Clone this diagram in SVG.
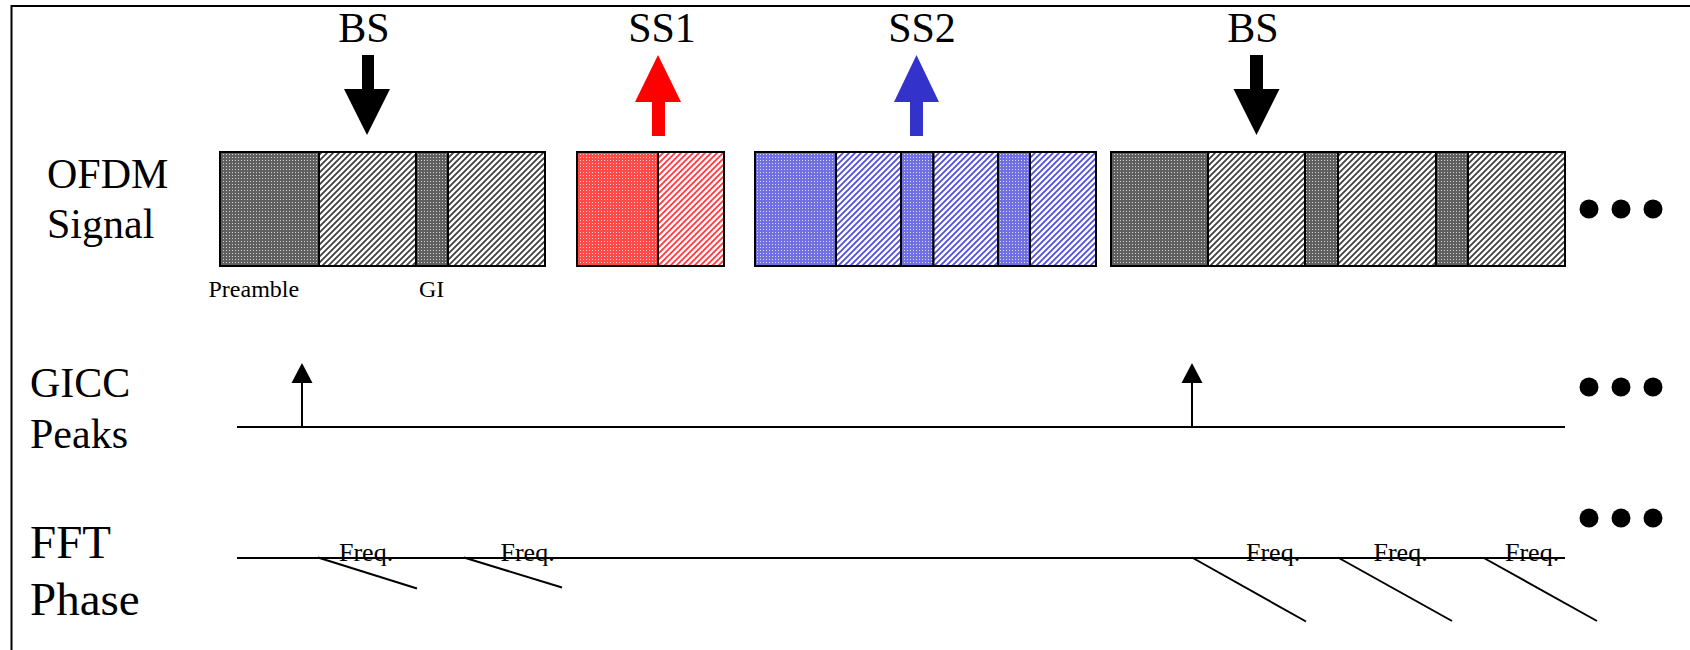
<svg xmlns="http://www.w3.org/2000/svg" width="1690" height="650" viewBox="0 0 1690 650">
<style>
  .lbl { font-family: "Liberation Serif", "Times New Roman", serif; fill: #000; }
  .big { font-size: 42px; }
  .big2 { font-size: 47px; }
  .small { font-size: 24px; }
  .freq { font-size: 26px; }
  .seg { stroke: #000; stroke-width: 2; }
  .ln { stroke: #000; stroke-width: 2; fill: none; }
  .dot { fill: #000; }
</style>
<defs>
  <pattern id="dotK" width="3" height="3" patternUnits="userSpaceOnUse">
    <rect width="3" height="3" fill="#606060"/>
    <rect x="1" y="1" width="1" height="1" fill="#d0d0d0"/>
  </pattern>
  <pattern id="hatchK" width="6" height="6" patternUnits="userSpaceOnUse">
    <rect width="6" height="6" fill="#fff"/>
    <path d="M-1,7 L7,-1 M-4,4 L4,-4 M2,10 L10,2" stroke="#404040" stroke-width="1.8"/>
  </pattern>
  <pattern id="dotR" width="3" height="3" patternUnits="userSpaceOnUse">
    <rect width="3" height="3" fill="#ff4a4a"/>
    <rect x="1" y="1" width="1" height="1" fill="#ffd0d0"/>
  </pattern>
  <pattern id="hatchR" width="6" height="6" patternUnits="userSpaceOnUse">
    <rect width="6" height="6" fill="#fff"/>
    <path d="M-1,7 L7,-1 M-4,4 L4,-4 M2,10 L10,2" stroke="#ff3a3a" stroke-width="1.8"/>
  </pattern>
  <pattern id="dotB" width="3" height="3" patternUnits="userSpaceOnUse">
    <rect width="3" height="3" fill="#7070e0"/>
    <rect x="1" y="1" width="1" height="1" fill="#dcdcff"/>
  </pattern>
  <pattern id="hatchB" width="6" height="6" patternUnits="userSpaceOnUse">
    <rect width="6" height="6" fill="#fff"/>
    <path d="M-1,7 L7,-1 M-4,4 L4,-4 M2,10 L10,2" stroke="#5050d8" stroke-width="1.8"/>
  </pattern>
</defs>

<g id="frame">
  <path d="M11.5,650 L11.5,6 L1690,6" class="ln"/>
</g>

<g id="row-labels">
  <text class="lbl big" x="47" y="188">OFDM</text>
  <text class="lbl big" x="47" y="238">Signal</text>
  <text class="lbl big" x="30" y="397">GICC</text>
  <text class="lbl big" x="30" y="448">Peaks</text>
  <text class="lbl big2" x="30" y="558">FFT</text>
  <text class="lbl big2" x="30" y="615">Phase</text>
</g>

<g id="bs1">
  <text class="lbl big" x="364" y="42" text-anchor="middle">BS</text>
  <path d="M362,55 H374 V89 H390 L367,135 L344,89 H362 Z" fill="#000"/>
</g>
<g id="ss1">
  <text class="lbl big" x="662" y="42" text-anchor="middle">SS1</text>
  <path d="M658,55 L681,102 H665 V136 H652 V102 H635 Z" fill="#ff0000"/>
</g>
<g id="ss2">
  <text class="lbl big" x="922" y="42" text-anchor="middle">SS2</text>
  <path d="M916.5,55 L939,102 H923 V136 H910 V102 H894 Z" fill="#3333cc"/>
</g>
<g id="bs2">
  <text class="lbl big" x="1253" y="42" text-anchor="middle">BS</text>
  <path d="M1250,55 H1263 V89 H1279.5 L1256.5,135 L1233.5,89 H1250 Z" fill="#000"/>
</g>

<g id="frame-bs1">
  <rect class="seg" x="220" y="152" width="99" height="114" fill="url(#dotK)"/>
  <rect class="seg" x="319" y="152" width="97" height="114" fill="url(#hatchK)"/>
  <rect class="seg" x="416" y="152" width="32" height="114" fill="url(#dotK)"/>
  <rect class="seg" x="448" y="152" width="97" height="114" fill="url(#hatchK)"/>
  <text class="lbl small" x="208.5" y="297">Preamble</text>
  <text class="lbl small" x="419" y="297">GI</text>
</g>

<g id="frame-ss1">
  <rect class="seg" x="577" y="152" width="81" height="114" fill="url(#dotR)"/>
  <rect class="seg" x="658" y="152" width="66" height="114" fill="url(#hatchR)"/>
</g>

<g id="frame-ss2">
  <rect class="seg" x="755" y="152" width="81" height="114" fill="url(#dotB)"/>
  <rect class="seg" x="836" y="152" width="65" height="114" fill="url(#hatchB)"/>
  <rect class="seg" x="901" y="152" width="32.5" height="114" fill="url(#dotB)"/>
  <rect class="seg" x="933.5" y="152" width="64.5" height="114" fill="url(#hatchB)"/>
  <rect class="seg" x="998" y="152" width="32" height="114" fill="url(#dotB)"/>
  <rect class="seg" x="1030" y="152" width="66" height="114" fill="url(#hatchB)"/>
</g>

<g id="frame-bs2">
  <rect class="seg" x="1111" y="152" width="97" height="114" fill="url(#dotK)"/>
  <rect class="seg" x="1208" y="152" width="97" height="114" fill="url(#hatchK)"/>
  <rect class="seg" x="1305" y="152" width="33" height="114" fill="url(#dotK)"/>
  <rect class="seg" x="1338" y="152" width="98" height="114" fill="url(#hatchK)"/>
  <rect class="seg" x="1436" y="152" width="32" height="114" fill="url(#dotK)"/>
  <rect class="seg" x="1468" y="152" width="97" height="114" fill="url(#hatchK)"/>
</g>

<g id="ellipsis">
  <circle class="dot" cx="1589" cy="209" r="9.5"/>
  <circle class="dot" cx="1621" cy="209" r="9.5"/>
  <circle class="dot" cx="1653" cy="209" r="9.5"/>
  <circle class="dot" cx="1589" cy="387" r="9.5"/>
  <circle class="dot" cx="1621" cy="387" r="9.5"/>
  <circle class="dot" cx="1653" cy="387" r="9.5"/>
  <circle class="dot" cx="1589" cy="518" r="9.5"/>
  <circle class="dot" cx="1621" cy="518" r="9.5"/>
  <circle class="dot" cx="1653" cy="518" r="9.5"/>
</g>

<g id="connectors">
  <line class="ln" x1="237" y1="427" x2="1565" y2="427"/>
  <line class="ln" x1="302" y1="427" x2="302" y2="380"/>
  <path d="M302,363 L312.5,383 H291.5 Z" fill="#000"/>
  <line class="ln" x1="1192" y1="427" x2="1192" y2="380"/>
  <path d="M1192,363 L1202.5,383 H1181.5 Z" fill="#000"/>

  <line class="ln" x1="237" y1="558" x2="1565" y2="558"/>
  <line class="ln" x1="318" y1="557.5" x2="417" y2="588.5"/>
  <line class="ln" x1="464" y1="557.5" x2="562" y2="587.5"/>
  <line class="ln" x1="1192" y1="557.5" x2="1306" y2="621.5"/>
  <line class="ln" x1="1338" y1="557.5" x2="1452" y2="621"/>
  <line class="ln" x1="1483" y1="557.5" x2="1597" y2="621"/>
</g>

<g id="freq-labels">
  <text class="lbl freq" x="339" y="561">Freq.</text>
  <text class="lbl freq" x="500.5" y="561">Freq.</text>
  <text class="lbl freq" x="1246" y="561">Freq.</text>
  <text class="lbl freq" x="1373.5" y="561">Freq.</text>
  <text class="lbl freq" x="1505" y="561">Freq.</text>
</g>
</svg>
